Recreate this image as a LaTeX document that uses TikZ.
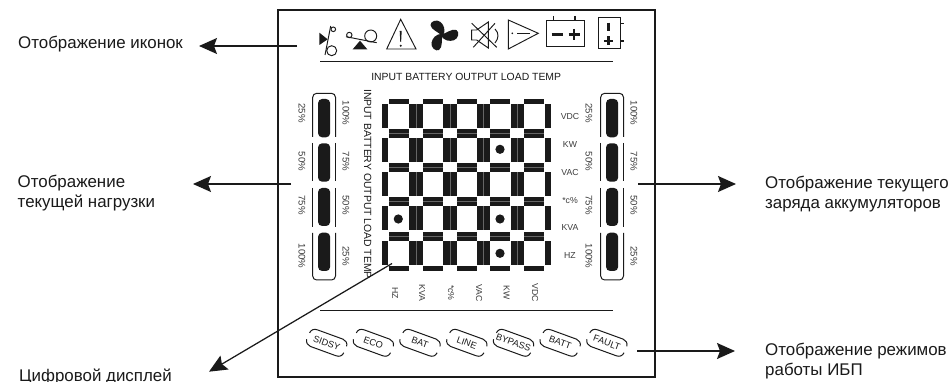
\documentclass[tikz,border=0pt]{standalone}
\usepackage{fontspec}
\setmainfont{Liberation Sans}
\usetikzlibrary{arrows.meta}
\definecolor{ink}{HTML}{1A1A1A}
\definecolor{seam}{HTML}{666666}
\tikzset{
  lbl/.style={font=\fontsize{16.9}{20}\selectfont,text=ink,inner sep=0pt,anchor=west},
  tiny/.style={font=\fontsize{8.7}{10}\selectfont,text=ink!85,inner sep=0pt},
  tinyv/.style={tiny,rotate=-90},
  perc/.style={font=\fontsize{9.6}{10}\selectfont,text=ink!85,inner sep=0pt,rotate=-90},
  head/.style={font=\fontsize{10.4}{12}\selectfont,text=ink,inner sep=0pt},
  badgetxt/.style={font=\fontsize{9.2}{10}\selectfont,text=ink,inner sep=0pt,rotate=-20},
  leader/.style={draw=ink,line width=1.25pt,-{Stealth[length=18pt,width=16pt,inset=3pt]}},
  rule/.style={draw=ink,line width=1.1pt},
  panel/.style={draw=ink,line width=1pt},
  icon/.style={draw=ink,line width=0.95pt},
}
\begin{document}
\begin{tikzpicture}[x=1pt,y=-1pt]
\useasboundingbox (0,0) rectangle (951,382);
\fill[white] (0,0) rectangle (951,382);
% frame
\draw[draw=ink,line width=1.6pt] (278,10) rectangle (655,377);
\draw[rule] (320,61.5) -- (613,61.5);
\draw[rule] (320,310.7) -- (613,310.7);
% icon 1
\fill[ink] (319.3,32.7) -- (327.7,39.3) -- (319.3,45) -- cycle;
\draw[icon] (330.7,26) -- (325,55);
\draw[icon] (333.3,29.3) circle (2.3);
\draw[icon] (331.7,50.7) circle (5);
% icon 2
\draw[icon] (346,36.7) -- (376.7,42.7);
\draw[icon] (349.3,35) circle (2.7);
\draw[icon] (370.7,36) circle (6);
\fill[ink] (352.7,49.3) -- (360,40.7) -- (367.3,49.3) -- cycle;
% icon 3
\draw[icon,line join=miter] (400.7,19.3) -- (416,49) -- (386.7,49) -- cycle;
\fill[ink] (399.7,31) -- (401.7,31) -- (401.1,42) -- (400.3,42) -- cycle;
\fill[ink] (400.7,45.7) circle (1.1);
% icon 4 fan
\foreach \a in {0,-120,-240}{
  \begin{scope}[shift={(442,35)},rotate=\a]
    \fill[ink] (0,1) .. controls (-3,-3) and (-11,-5) .. (-11.5,-10) .. controls (-11.5,-14) and (-5,-16) .. (-1.5,-13) .. controls (2,-10) and (4,-5) .. (1,1) -- cycle;
  \end{scope}
}
% icon 5 muted speaker
\draw[icon] (471.7,23.3) -- (496.7,47.3);
\draw[icon] (495,23.3) -- (473.3,47.3);
\draw[icon] (476.7,30) -- (471.7,30) -- (471.7,40) -- (476.7,40) -- (488.3,48) -- (488.3,22) -- cycle;
\draw[icon] (495,29) .. controls (499,33) and (499,38) .. (495,43);
% icon 6
\draw[icon,line join=miter] (508.3,20) -- (538.3,33.3) -- (508.3,49) -- cycle;
\fill[ink] (512.3,33.3) circle (0.9);
\draw[draw=ink,line width=1.2pt] (517.3,33.3) -- (530,33.3);
% icon 7 battery
\draw[icon] (546.7,20.7) rectangle (584,46.7);
\draw[draw=ink,line width=1.4pt] (553.3,16) -- (553.3,20.7);
\draw[draw=ink,line width=1.4pt] (575,16) -- (575,20.7);
\draw[draw=ink,line width=2.5pt] (551.7,34.7) -- (563.3,34.7);
\draw[draw=ink,line width=2.5pt] (568.5,34.3) -- (579.5,34.3);
\draw[draw=ink,line width=2.5pt] (574,28.8) -- (574,39.8);
% icon 8 battery upright
\draw[icon] (598.3,17.7) rectangle (620,48.3);
\draw[draw=ink,line width=1.4pt] (620,23.3) -- (624.3,23.3);
\draw[draw=ink,line width=1.4pt] (620,41) -- (624.3,41);
\draw[draw=ink,line width=2.5pt] (608.3,22.7) -- (608.3,30.7);
\draw[draw=ink,line width=2.5pt] (603.8,41) -- (612.8,41);
\draw[draw=ink,line width=2.5pt] (608.3,36.5) -- (608.3,45.5);
% headings
\node[head] (htop) at (466.2,77) {INPUT BATTERY OUTPUT LOAD TEMP};
\node[head,rotate=-90] (hside) at (367.7,184) {INPUT BATTERY OUTPUT LOAD TEMP};
% level panels
\foreach \x/\p in {312.7/L,600.7/R}{
  \begin{scope}[shift={(\x,0)}]
    \draw[panel,rounded corners=4pt] (0,137) -- (0,93.3) -- (22.8,93.3) -- (22.8,137);
    \draw[panel] (0,143) -- (0,181) (22.8,143) -- (22.8,181);
    \draw[panel] (0,188) -- (0,227) (22.8,188) -- (22.8,227);
    \draw[panel,rounded corners=4pt] (0,233) -- (0,280) -- (22.8,280) -- (22.8,233);
    \foreach \a/\b in {99/137.3,143.3/181.7,188/226,232.7/271}{
      \fill[ink,rounded corners=4pt] (5.4,\a) rectangle (17.4,\b);
    }
  \end{scope}
}
% level labels
\foreach \y/\a/\b [count=\i] in {113/25/100,161.5/50/75,205/75/50,256/100/25}{
  \node[perc] (la\i) at (302,\y) {\a\%};
  \node[perc] (lb\i) at (346,\y) {\b\%};
  \node[perc] (ra\i) at (589,\y) {\a\%};
  \node[perc] (rb\i) at (634,\y) {\b\%};
}
% segment display
\foreach \x in {389,422.8,456.6,490.4,524.2}{
  \fill[ink] (\x,99) rectangle ++(20,4.7);
  \fill[ink] (\x,265.9) rectangle ++(20,4.8);
  \foreach \y in {128.7,162.8,197,231.7}{
    \fill[ink] (\x,\y) rectangle ++(20,9);
    \draw[draw=seam,line width=0.4pt] (\x,\y+4.5) -- ++(20,0);
  }
}
\foreach \y in {104,138,172,206,241}{
  \fill[ink] (382,\y) rectangle ++(6.2,24.3);
  \fill[ink] (544.5,\y) rectangle ++(6.5,24.3);
  \foreach \x in {409,442.9,476.7,510.5}{
    \fill[ink] (\x,\y) rectangle ++(13.6,24.3);
    \draw[draw=seam,line width=0.4pt] (\x+6.8,\y) -- ++(0,24.3);
  }
}
\foreach \x/\y in {398.3/219,500/149.3,500/219,500/253.3}{
  \fill[ink] (\x,\y) circle (4.6);
}
% unit labels
\foreach \y/\t [count=\i] in {117/VDC,145/KW,173/VAC,200.6/{*c\%},228/KVA,256/HZ}{
  \node[tiny] (ur\i) at (570,\y) {\t};
}
\foreach \x/\t [count=\i] in {395/HZ,422/KVA,451/{*c\%},479/VAC,506.7/KW,535/VDC}{
  \node[tinyv] (ub\i) at (\x,293) {\t};
}
% mode badges
\foreach \x/\t [count=\i] in {326.7/SIDSY,373.4/ECO,420/BAT,466.8/LINE,513.5/BYPASS,560.2/BATT,606.9/FAULT}{
  \begin{scope}[shift={(\x,342.8)},rotate=-20]
    \draw[panel] (-19.5,-3.5) .. controls (-19,-7) and (-17,-9) .. (-13,-9) -- (14,-9) .. controls (17,-9) and (19.5,-7) .. (20,-3.5);
    \draw[panel] (-20,3.5) .. controls (-19.5,7) and (-17,9) .. (-14,9) -- (13,9) .. controls (17,9) and (19,7) .. (19.5,3.5);
  \end{scope}
  \node[badgetxt] (m\i) at (\x,342.8) {\t};
}
% callouts
\node[lbl] (t1) at (18,44) {Отображение иконок};
\node[lbl,align=left] (t2) at (17.5,193) {Отображение\\текущей нагрузки};
\node[lbl] (t3) at (19,377) {Цифровой дисплей};
\node[lbl,align=left] (t4) at (765,194) {Отображение текущего\\заряда аккумуляторов};
\node[lbl,align=left] (t5) at (765,361) {Отображение режимов\\работы ИБП};
\coordinate (s1) at (297,46);
\coordinate (e1) at (199,46);
\coordinate (s2) at (291,184);
\coordinate (e2) at (193,184);
\coordinate (s3) at (392,263.5);
\coordinate (e3) at (209,371.7);
\coordinate (s4) at (638,184);
\coordinate (e4) at (736,184);
\coordinate (s5) at (637,351);
\coordinate (e5) at (735,351);
\foreach \i in {1,...,5}{
  \draw[leader] (s\i) -- (e\i);
}
\end{tikzpicture}
\end{document}
